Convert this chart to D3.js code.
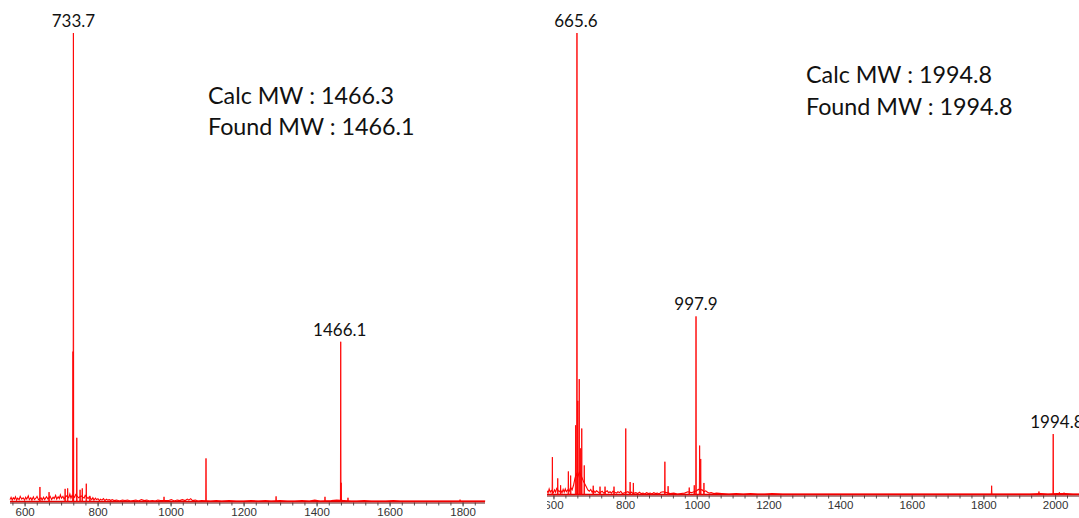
<!DOCTYPE html>
<html><head><meta charset="utf-8">
<script src="https://cdn.jsdelivr.net/npm/d3@7"></script>
<style>body{margin:0;background:#fff}</style>
</head><body><svg id="c" width="1079" height="518"></svg>
<script>
// ---------- DATA ----------
// Left spectrum: stick peaks (m/z, relative intensity %)
const leftPeakMz  = [642, 667, 711, 718, 732.6, 733.7, 743, 752, 758, 769, 779, 982, 1097, 1289, 1423, 1466.1, 1467.2, 1486, 1793];
const leftPeakInt = [3.1, 2.0, 2.7, 2.8, 32,    100,   13.6, 2.5, 2.8, 3.8, 1.2, 1.0, 9.2,  1.1,  1.0,  34.1,   4.0,    0.8,  0.4];
// Left baseline noise profile
const leftNoiseMz  = [560, 563, 566, 569, 572, 575, 578, 581, 585, 588, 592, 596, 600, 603, 606, 610, 613, 617, 620, 624, 627, 631, 634, 638, 645, 648, 652, 655, 660, 664, 670, 674, 678, 681, 685, 688, 692, 695, 698, 701, 705, 708, 714, 721, 724, 727, 730, 737, 740, 748, 755, 763, 766, 774, 777, 784, 787, 790, 794, 797, 801, 805, 808, 812, 816, 820, 824, 828, 832, 836, 840, 845, 852, 860, 868, 875, 882, 890, 898, 905, 912, 920, 928, 935, 942, 950, 958, 965, 972, 995, 1002, 1010, 1018, 1025, 1032, 1040, 1046, 1050, 1055, 1060, 1068, 1075, 1085, 1110, 1125, 1140, 1160, 1180, 1200, 1220, 1240, 1260, 1275, 1300, 1320, 1340, 1360, 1380, 1395, 1410, 1440, 1455, 1475, 1495, 1510, 1530, 1550, 1570, 1590, 1610, 1630, 1650, 1670, 1690, 1710, 1730, 1750, 1770, 1810, 1830, 1862];
const leftNoiseInt = [0.4, 0.9, 0.3, 0.8, 0.5, 1.0, 0.3, 0.7, 0.4, 1.1, 0.5, 0.8, 0.3, 0.9, 0.5, 1.2, 0.4, 0.8, 0.3, 1.0, 0.4, 0.7, 1.1, 0.4, 0.8, 0.3, 0.9, 0.4, 1.0, 0.5, 1.1, 0.4, 0.9, 0.6, 1.3, 0.5, 1.0, 0.6, 1.4, 0.7, 1.1, 0.5, 1.2, 0.8, 1.6, 0.7, 1.3, 0.9, 1.5, 0.8, 1.2, 0.7, 1.3, 0.6, 1.0, 0.4, 0.8, 0.3, 0.7, 0.4, 0.6, 0.2, 0.5, 0.3, 0.6, 0.2, 0.5, 0.3, 0.4, 0.2, 0.4, 0.2, 0.3, 0.1, 0.3, 0.2, 0.3, 0.1, 0.2, 0.3, 0.1, 0.4, 0.2, 0.3, 0.1, 0.2, 0.1, 0.3, 0.2, 0.2, 0.4, 0.1, 0.3, 0.2, 0.4, 0.2, 0.5, 0.3, 0.6, 0.2, 0.3, 0.1, 0.2, 0.1, 0.2, 0.1, 0.2, 0.1, 0.1, 0.2, 0.1, 0.2, 0.1, 0.2, 0.1, 0.1, 0.2, 0.1, 0.3, 0.1, 0.2, 0.3, 0.2, 0.1, 0.1, 0.2, 0.1, 0.1, 0.1, 0.2, 0.1, 0.1, 0.1, 0.1, 0.1, 0.1, 0.1, 0.1, 0.1, 0.1, 0.1, 0.1, 0.1];
const leftLabelMz  = [733.7, 1466.1];
const leftLabelTxt = ["733.7", "1466.1"];
const leftInfo = ["Calc MW : 1466.3", "Found MW : 1466.1"];

// Right spectrum
const rightPeakMz  = [597, 612, 620, 641.6, 648, 662, 665.6, 668, 672, 676, 679, 686, 711, 730, 744, 769, 801.8, 814, 823, 911, 920, 979, 993, 997.9, 1008, 1011, 1020, 1823, 1955, 1994.8, 2012, 2025];
const rightPeakInt = [8.1, 3.5, 2.0, 5.0,   4.1, 15,  100,   20.3, 25,  10,  14.3, 6.3, 1.9, 1.7, 1.7, 1.7, 14.3,  2.7, 2.5, 7.1, 1.8, 1.5, 2.0, 38.6,  10.6, 7.7,  2.5,  1.9,  0.65, 13.1,   0.5,  0.4];
const rightNoiseMz  = [582, 585, 588, 591, 594, 600, 603, 606, 609, 616, 620, 624, 627, 630, 633, 636, 640, 644, 648, 652, 656, 660, 664, 668, 672, 676, 680, 684, 688, 692, 696, 700, 704, 708, 712, 716, 720, 724, 728, 736, 740, 750, 754, 758, 762, 766, 776, 780, 784, 788, 792, 808, 812, 818, 822, 830, 835, 840, 845, 850, 855, 860, 865, 870, 875, 880, 885, 890, 895, 900, 906, 916, 926, 936, 946, 956, 966, 975, 985, 1000, 1004, 1015, 1020, 1025, 1030, 1035, 1040, 1048, 1055, 1070, 1090, 1110, 1130, 1150, 1170, 1190, 1210, 1240, 1270, 1300, 1330, 1360, 1390, 1420, 1450, 1480, 1510, 1540, 1570, 1600, 1630, 1660, 1690, 1720, 1750, 1780, 1810, 1840, 1870, 1900, 1930, 1960, 1980, 2005, 2030, 2050, 2070];
const rightNoiseInt = [0.8, 0.3, 1.2, 0.5, 0.9, 0.4, 1.0, 0.5, 1.3, 0.6, 0.9, 0.4, 1.1, 0.5, 1.2, 0.6, 1.0, 0.7, 1.5, 1.0, 2.0, 3.5, 4.5, 3.8, 4.8, 4.2, 3.6, 2.8, 2.2, 1.6, 1.0, 0.7, 1.1, 0.5, 0.9, 0.4, 0.8, 0.6, 0.3, 0.7, 0.3, 0.8, 0.4, 0.6, 0.3, 0.7, 0.3, 0.6, 0.4, 0.7, 0.2, 0.6, 0.3, 0.5, 0.2, 0.4, 0.2, 0.5, 0.2, 0.3, 0.1, 0.4, 0.2, 0.3, 0.1, 0.4, 0.2, 0.3, 0.1, 0.5, 0.6, 0.4, 0.2, 0.3, 0.1, 0.2, 0.3, 0.6, 0.4, 0.8, 1.1, 1.0, 0.6, 0.8, 0.5, 0.3, 0.4, 0.2, 0.3, 0.2, 0.1, 0.2, 0.1, 0.2, 0.1, 0.1, 0.2, 0.1, 0.1, 0.1, 0.1, 0.1, 0.1, 0.1, 0.1, 0.1, 0.1, 0.1, 0.1, 0.1, 0.1, 0.1, 0.1, 0.1, 0.1, 0.1, 0.1, 0.1, 0.1, 0.1, 0.1, 0.2, 0.1, 0.2, 0.2, 0.1, 0.1];
const rightLabelMz  = [665.6, 997.9, 1994.8];
const rightLabelTxt = ["665.6", "997.9", "1994.8"];
const rightInfo = ["Calc MW : 1994.8", "Found MW : 1994.8"];

const leftTicks  = [600, 800, 1000, 1200, 1400, 1600, 1800];
const rightTicks = [600, 800, 1000, 1200, 1400, 1600, 1800, 2000];

// ---------- DRAW ----------
const svg = d3.select("#c");

function panel(cfg) {
  const g = svg.append("g");
  const clipId = "clip" + cfg.id;
  svg.append("clipPath").attr("id", clipId).append("rect")
    .attr("x", cfg.clipX).attr("y", 0).attr("width", cfg.clipW).attr("height", 518);
  g.attr("clip-path", `url(#${clipId})`);

  const x = d3.scaleLinear().domain(cfg.xDomain).range(cfg.xRange);
  const y = d3.scaleLinear().domain([0, 100]).range([cfg.y0, cfg.yTop]);

  // axis
  const minorTicks = d3.range(0, 60).map(i => 400 + i * 200 / 6).filter(v => v > cfg.xDomain[0] && v < cfg.xDomain[1]);
  const axisG = g.append("g").attr("transform", `translate(0,${cfg.axisY})`);
  const axMinor = d3.axisBottom(x).tickValues(minorTicks).tickSize(3).tickFormat("");
  axisG.append("g").call(axMinor).call(s => s.select(".domain").remove())
    .selectAll("line").attr("stroke", "#555");
  const axMajor = d3.axisBottom(x).tickValues(cfg.ticks).tickSize(4).tickPadding(cfg.pad).tickFormat(d3.format("d"));
  const ma = axisG.append("g").call(axMajor);
  ma.select(".domain").attr("d", `M${cfg.xRange0},0.5H${cfg.xRange1}`).attr("stroke", "#5a1414").attr("stroke-width", 1.2);
  ma.selectAll("line").attr("stroke", "#555");
  ma.selectAll("text").attr("font-family", "Liberation Sans, Arial, sans-serif").attr("font-size", 11.5).attr("fill", "#333");

  // noise baseline
  const line = d3.line().x(d => x(d[0])).y(d => y(d[1]));
  g.append("line").attr("x1", cfg.xRange0).attr("x2", cfg.xRange1).attr("y1", y(0)).attr("y2", y(0))
    .attr("stroke", "#e00000").attr("stroke-width", 1.4);
  const noisePts = cfg.noiseMz.map((m, i) => [m, cfg.noiseInt[i]]);
  g.append("path").attr("d", line(noisePts)).attr("fill", "none").attr("stroke", "#ff0000").attr("stroke-width", 1.1);

  // stick peaks
  const w = 0.9;
  cfg.peakMz.forEach((m, i) => {
    const pts = [[m - w, 0], [m, cfg.peakInt[i]], [m + w, 0]];
    g.append("path").attr("d", line(pts)).attr("fill", "none").attr("stroke", "#ff0000").attr("stroke-width", 1).attr("stroke-opacity", 0.9);
  });

  // peak labels
  cfg.labelMz.forEach((m, i) => {
    const idx = cfg.peakMz.indexOf(m);
    g.append("text").attr("x", x(m) + (cfg.labelDx[i] || 0)).attr("y", y(cfg.peakInt[idx]) - 6)
      .attr("text-anchor", cfg.labelAnchor[i] || "middle")
      .attr("font-family", "Lato, sans-serif").attr("font-size", 17).attr("fill", "#111")
      .text(cfg.labelTxt[i]);
  });

  // info text
  cfg.info.forEach((t, i) => {
    g.append("text").attr("x", cfg.infoX).attr("y", cfg.infoY + i * 31.5)
      .attr("font-family", "Lato, sans-serif").attr("font-size", 23.3).attr("fill", "#111").text(t);
  });
}

panel({
  id: "L", clipX: 0, clipW: 530,
  xDomain: [560, 1862], xRange: [10, 10 + (1862 - 560) * 0.365],
  xRange0: 10, xRange1: 485,
  y0: 501.5, yTop: 33, axisY: 502.5, pad: 1.5,
  ticks: leftTicks,
  peakMz: leftPeakMz, peakInt: leftPeakInt, noiseMz: leftNoiseMz, noiseInt: leftNoiseInt,
  labelMz: leftLabelMz, labelTxt: leftLabelTxt, labelDx: [0, -1], labelAnchor: [],
  info: leftInfo, infoX: 208, infoY: 103.5
});

panel({
  id: "R", clipX: 547, clipW: 532,
  xDomain: [582, 2070], xRange: [547, 547 + (2070 - 582) * 0.3583],
  xRange0: 547, xRange1: 1079,
  y0: 494.5, yTop: 33, axisY: 495.5, pad: 1.5,
  ticks: rightTicks,
  peakMz: rightPeakMz, peakInt: rightPeakInt, noiseMz: rightNoiseMz, noiseInt: rightNoiseInt,
  labelMz: rightLabelMz, labelTxt: rightLabelTxt, labelDx: [-1, 0, -23], labelAnchor: ["middle", "middle", "start"],
  info: rightInfo, infoX: 806, infoY: 83
});
</script></body></html>
